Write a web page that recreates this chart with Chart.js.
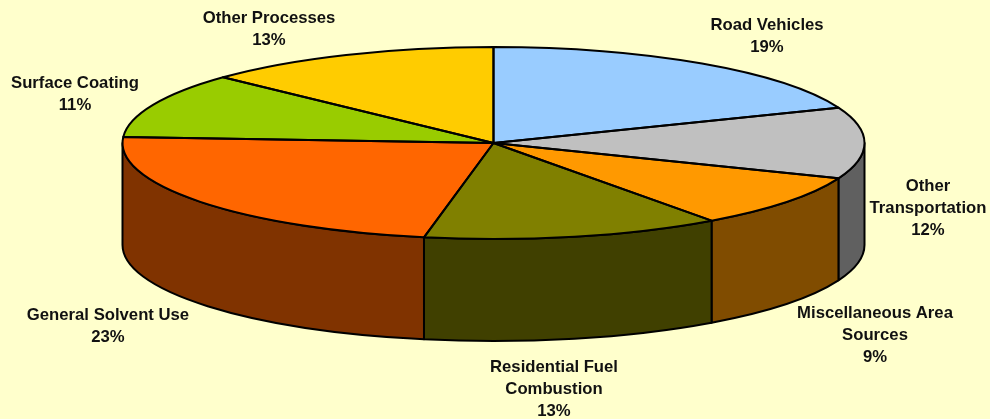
<!DOCTYPE html>
<html>
<head>
<meta charset="utf-8">
<title>Emissions by source</title>
<script src="https://cdn.jsdelivr.net/npm/chart.js@4"></script>
<style>
    html, body { margin: 0; padding: 0; background: #FFFFCC; overflow: hidden; }
    canvas { display: block; }
</style>
</head>
<body>
<canvas id="myPieChart" width="990" height="419"></canvas>
<script>
var categories = ['Road Vehicles', 'Other Transportation', 'Miscellaneous Area Sources', 'Residential Fuel Combustion', 'General Solvent Use', 'Surface Coating', 'Other Processes'];
var shares = [19, 12, 9, 13, 23, 11, 13];
var topColors = ['#99CCFF', '#C0C0C0', '#FF9900', '#808000', '#FF6600', '#99CC00', '#FFCC00'];
var wallColors = ['#4C6680', '#606060', '#804C00', '#404000', '#803300', '#4C6600', '#806600'];

// label text split the way it wraps in the picture, with where each block sits
var labelLines = [['Road Vehicles'], ['Other', 'Transportation'], ['Miscellaneous Area', 'Sources'], ['Residential Fuel', 'Combustion'], ['General Solvent Use'], ['Surface Coating'], ['Other Processes']];
var labelX = [767, 928, 875, 554, 108, 75, 269];
var labelY = [25, 186, 313, 367, 315, 83, 18];

var pieRadius = 371;
var tilt = 96 / 371;
var depth = 102;

var pie3d = {
    id: 'pie3d',
    beforeDatasetsDraw: function (chart) {
        var ctx = chart.ctx;
        var arcs = chart.getDatasetMeta(0).data;

        // side wall, only the part of each slice on the near side
        arcs.forEach(function (arc, i) {
            var from = Math.max(arc.startAngle, 0);
            var to = Math.min(arc.endAngle, Math.PI);
            if (from >= to) return;
            ctx.beginPath();
            ctx.ellipse(arc.x, arc.y, arc.outerRadius, arc.outerRadius * tilt, 0, from, to);
            ctx.ellipse(arc.x, arc.y + depth, arc.outerRadius, arc.outerRadius * tilt, 0, to, from, true);
            ctx.closePath();
            ctx.fillStyle = wallColors[i];
            ctx.fill();
            ctx.lineWidth = 2;
            ctx.strokeStyle = '#000';
            ctx.lineJoin = 'round';
            ctx.stroke();
        });

        // squash the flat pie into an ellipse
        var first = arcs[0];
        ctx.save();
        ctx.translate(first.x, first.y);
        ctx.scale(1, tilt);
        ctx.translate(-first.x, -first.y);
    },
    afterDatasetsDraw: function (chart) {
        var ctx = chart.ctx;
        var arcs = chart.getDatasetMeta(0).data;
        ctx.restore();

        // outlines after the restore so the line width stays even
        arcs.forEach(function (arc) {
            ctx.beginPath();
            ctx.moveTo(arc.x, arc.y);
            ctx.ellipse(arc.x, arc.y, arc.outerRadius, arc.outerRadius * tilt, 0, arc.startAngle, arc.endAngle);
            ctx.closePath();
            ctx.lineWidth = 2;
            ctx.strokeStyle = '#000';
            ctx.lineJoin = 'round';
            ctx.stroke();
        });

        ctx.font = 'bold 16.7px "Liberation Sans", Arial, sans-serif';
        ctx.fillStyle = '#111';
        ctx.textAlign = 'center';
        ctx.textBaseline = 'middle';
        categories.forEach(function (name, i) {
            var lines = labelLines[i].concat(shares[i] + '%');
            lines.forEach(function (line, n) {
                ctx.fillText(line, labelX[i], labelY[i] + n * 22);
            });
        });
    }
};

var ctx = document.getElementById('myPieChart').getContext('2d');
var myPieChart = new Chart(ctx, {
    type: 'pie',
    data: {
        labels: categories,
        datasets: [{
            data: shares,
            backgroundColor: topColors,
            borderWidth: 0,
            radius: pieRadius
        }]
    },
    options: {
        responsive: false,
        animation: false,
        layout: { padding: { right: 3, bottom: 133 } },
        plugins: {
            legend: { display: false },
            tooltip: { enabled: false }
        }
    },
    plugins: [pie3d]
});
</script>
</body>
</html>
